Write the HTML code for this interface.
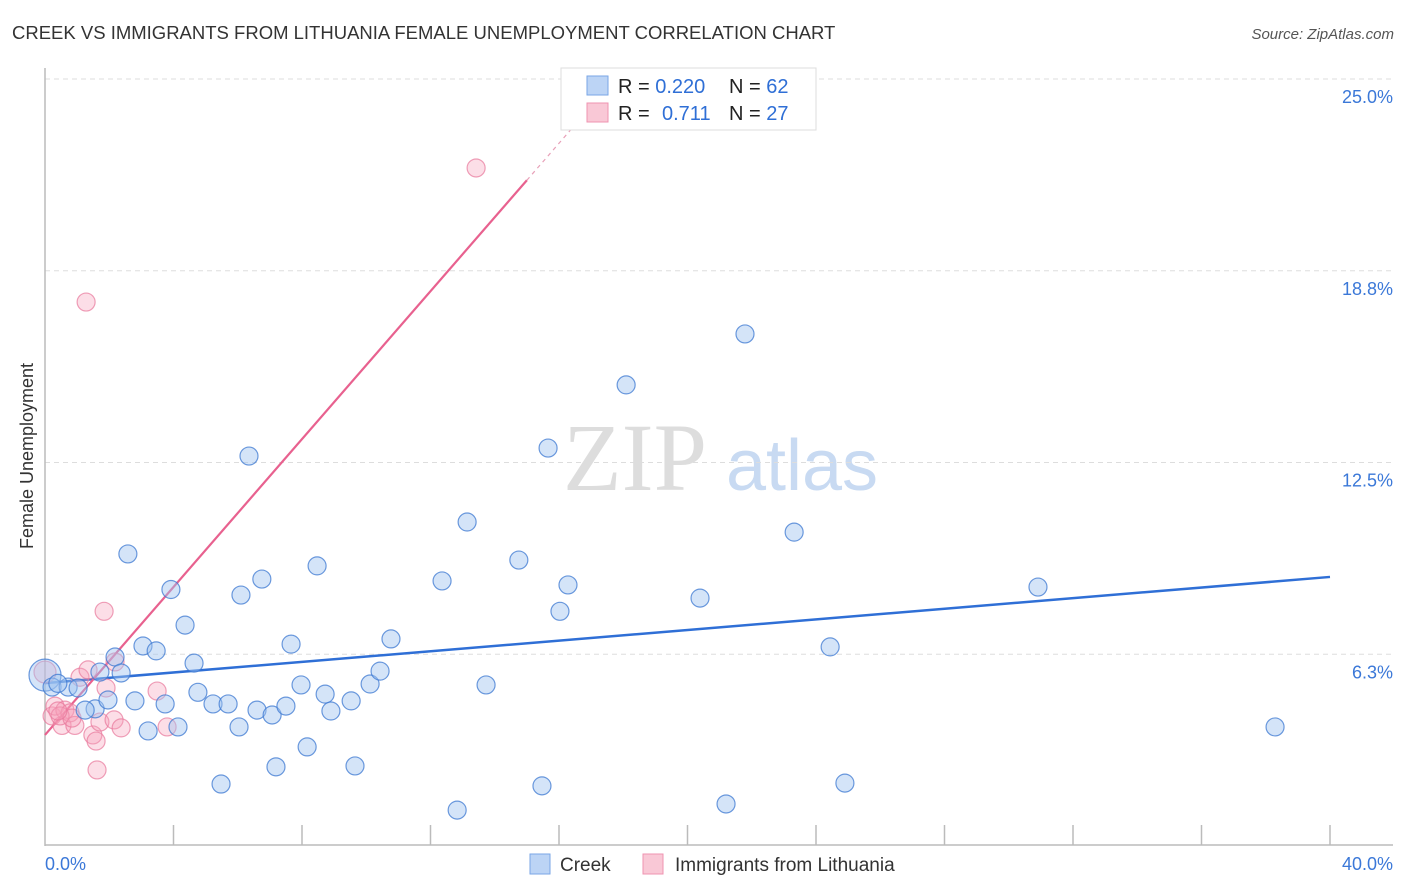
<!DOCTYPE html>
<html><head><meta charset="utf-8"><style>
body{margin:0;background:#fff;font-family:"Liberation Sans",sans-serif;}
svg{display:block}
</style></head><body>
<svg id="chart" width="1406" height="892">
<text x="12" y="39" font-size="18.5" fill="#333">CREEK VS IMMIGRANTS FROM LITHUANIA FEMALE UNEMPLOYMENT CORRELATION CHART</text>
<text x="1394" y="39" font-size="15" fill="#555" font-style="italic" text-anchor="end">Source: ZipAtlas.com</text>
<text x="33" y="456" font-size="18" fill="#333" text-anchor="middle" transform="rotate(-90 33 456)">Female Unemployment</text>
<g>
<text x="635" y="490" font-size="96" font-family="Liberation Serif,serif" fill="#ddd" text-anchor="middle">ZIP</text>
<text x="802" y="490" font-size="72" fill="#c8daf2" text-anchor="middle">atlas</text>
</g>
<g id="grid"></g><g id="axes"></g><g id="trends"></g><g id="points"></g>
<g>
<rect x="561" y="68" width="255" height="62" fill="#fff" stroke="#ddd"/>
<rect x="587" y="76" width="21" height="19" fill="#bcd4f5" stroke="#7aa6e6"/>
<rect x="587" y="103" width="21" height="19" fill="#f9c8d6" stroke="#ef93b0"/>
<text x="618" y="93" font-size="20" fill="#222">R = <tspan fill="#2f6fd6">0.220</tspan><tspan x="729">N = </tspan><tspan fill="#2f6fd6">62</tspan></text>
<text x="618" y="120" font-size="20" fill="#222">R = <tspan x="662" fill="#2f6fd6">0.711</tspan><tspan x="729">N = </tspan><tspan fill="#2f6fd6">27</tspan></text>
</g>
<g>
<rect x="530" y="854" width="20" height="20" fill="#bcd4f5" stroke="#7aa6e6"/>
<text x="560" y="871" font-size="19" fill="#333">Creek</text>
<rect x="643" y="854" width="20" height="20" fill="#f9c8d6" stroke="#ef93b0"/>
<text x="675" y="871" font-size="19" fill="#333">Immigrants from Lithuania</text>
</g>
</svg>
<script>
const yTicks=[6.25,12.5,18.75,25];
const yTickLabels=["6.3%","12.5%","18.8%","25.0%"];
const xTickLabels=["0.0%","40.0%"];
const cX=[0,0.22,0.72,1.03,1.56,1.25,1.71,1.96,2.18,2.37,2.58,2.80,3.05,3.21,3.46,3.74,3.92,4.14,4.36,4.64,4.76,5.23,5.48,5.70,6.04,6.10,6.35,6.60,6.75,7.07,7.19,7.50,7.66,7.97,8.16,8.47,8.72,8.90,9.53,9.65,10.12,10.43,10.77,12.36,12.83,13.14,13.73,14.75,15.47,15.66,16.03,16.28,18.09,20.39,21.20,21.79,23.32,24.44,24.90,30.91,38.29,0.40];
const cY=[5.57,5.18,5.18,5.15,4.47,4.43,5.67,4.76,6.16,5.64,9.52,4.73,6.52,3.75,6.36,4.63,8.36,3.88,7.20,5.96,5.01,4.63,2.02,4.63,3.88,8.18,12.71,4.43,8.70,4.27,2.58,4.56,6.58,5.25,3.23,9.13,4.95,4.40,4.73,2.61,5.28,5.70,6.75,8.64,1.17,10.56,5.25,9.32,1.96,12.97,7.65,8.51,15.03,8.08,1.37,16.69,10.23,6.49,2.05,8.44,3.88,5.30];
const lX=[0,0.22,0.31,0.53,0.62,0.78,0.93,1.09,1.28,1.34,1.49,1.59,1.62,1.71,1.84,1.90,2.15,2.18,2.37,3.49,3.80,13.42,0.47,0.84,0.40];
const lY=[5.67,4.24,4.56,3.93,4.43,4.34,3.93,5.50,17.73,5.74,3.62,3.42,2.48,4.04,7.65,5.15,4.11,6.00,3.85,5.05,3.88,22.10,4.24,4.17,4.40];
const creekTrend=[5.31,8.77];
const lithTrend=[3.62,21.7];
const lithTrendEndX=15.0;
const NS="http://www.w3.org/2000/svg";
const sx=v=>45+v/40*1285, sy=v=>846-v/25*767;
function mk(tag,attrs,parent){const e=document.createElementNS(NS,tag);for(const k in attrs)e.setAttribute(k,attrs[k]);parent.appendChild(e);return e;}
const grid=document.getElementById('grid'),axes=document.getElementById('axes'),tr=document.getElementById('trends'),pts=document.getElementById('points');
yTicks.forEach((t,i)=>{
 const l=mk('line',{x1:45,x2:1393,y1:sy(t),y2:sy(t),stroke:'#ddd','stroke-dasharray':'5,4'},grid);
 
 
 const tx=mk('text',{x:1393,y:sy(t)+24,'font-size':18,fill:'#3b78d8','text-anchor':'end'},grid);
 tx.textContent=yTickLabels[i];
 
 
});
const ya=mk('line',{x1:45,x2:45,y1:68,y2:846,stroke:'#bbb','stroke-width':1.5},axes);


const xa=mk('line',{x1:45,x2:1393,y1:845,y2:845,stroke:'#bbb','stroke-width':1.5},axes);


for(let k=1;k<=10;k++){const t=mk('line',{x1:sx(k*4),x2:sx(k*4),y1:825,y2:845,stroke:'#bbb','stroke-width':1.5},axes);
 
 }
[[0,'start',45],[40,'end',1393]].forEach((d,i)=>{const t=mk('text',{x:d[2],y:870,'font-size':18,fill:'#3b78d8','text-anchor':d[1]},axes);t.textContent=xTickLabels[i];
 
 });
function draw(X,Y,fill,stroke,name){X.forEach((x,i)=>{const r=(i==0)?(name=='creek-point'?16:11):9;
 const c=mk('circle',{cx:sx(x),cy:sy(Y[i]),r:r,fill:fill,stroke:stroke,'stroke-width':1.2},pts);
 
 });}
draw(lX,lY,'rgba(245,160,185,0.35)','rgba(232,120,155,0.7)','lithuania-point');
draw(cX,cY,'rgba(160,195,240,0.45)','rgba(60,120,210,0.75)','creek-point');
const bt=mk('line',{x1:sx(0),y1:sy(creekTrend[0]),x2:sx(40),y2:sy(creekTrend[1]),stroke:'#2f6fd6','stroke-width':2.5},tr);


const slope=(lithTrend[1]-lithTrend[0])/lithTrendEndX;
const pt=mk('line',{x1:sx(0),y1:sy(lithTrend[0]),x2:sx(lithTrendEndX),y2:sy(lithTrend[1]),stroke:'#e8618f','stroke-width':2.2},tr);


const ex=16.8;
const pd=mk('line',{x1:sx(lithTrendEndX),y1:sy(lithTrend[1]),x2:sx(ex),y2:sy(lithTrend[0]+slope*ex),stroke:'#e8a0b8','stroke-width':1.2,'stroke-dasharray':'4,4'},tr);


</script>
</body></html>
